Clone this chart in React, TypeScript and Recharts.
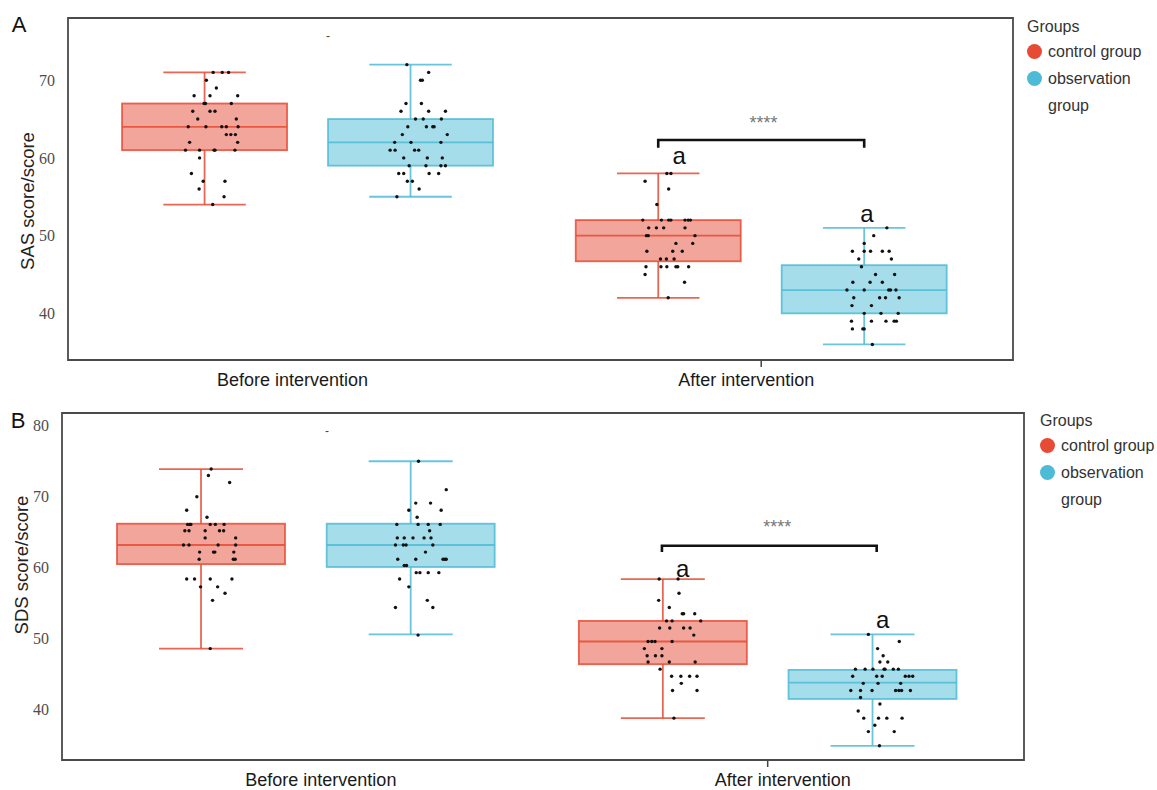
import React from "react";
import { ComposedChart, Bar, Scatter, XAxis, YAxis, ReferenceArea } from "recharts";

// Two stages on the x axis, two dodged groups per stage.
const stages = ["Before intervention", "After intervention"];
const groups = ["control group", "observation group"];
const groupColors = ["#E64B35", "#4DBBD5"];
const groupFills = ["rgba(230,75,53,0.5)", "rgba(77,187,213,0.5)"];

// Box statistics per stage: [min, q1, median, q3, max]
const sasControlStats = [[54, 61, 64, 67, 71], [42, 46.7, 50, 52, 58]];
const sasObsStats = [[55, 59, 62, 65, 72], [36, 40, 43, 46.2, 51]];
const sdsControlStats = [[48.6, 60.5, 63.2, 66.2, 73.9], [38.8, 46.4, 49.6, 52.5, 58.4]];
const sdsObsStats = [[50.6, 60.1, 63.2, 66.2, 75.0], [34.9, 41.5, 43.8, 45.6, 50.6]];

// Individual scores as [jitter, score]; jitter is the horizontal spread
const sasControlBefore = [[0.019,71],[0.039,71],[0.053,71],[0.004,70],[0.026,69],[-0.023,68],[0.012,68],[0.073,68],[-0.001,67],[0.002,67],[0.059,67],[-0.026,66],[0.012,66],[0.023,66],[-0.015,65],[0.070,65],[-0.036,64],[0.003,64],[0.038,64],[0.048,64],[0.074,64],[0.048,63],[0.058,63],[0.068,63],[-0.033,62],[0.073,62],[-0.042,61],[-0.011,61],[0.021,61],[0.023,61],[0.067,61],[-0.011,60],[-0.029,58],[-0.003,57],[0.045,57],[-0.012,56],[0.043,55],[0.018,54]];
const sasObsBefore = [[-0.008,72],[0.040,71],[0.022,70],[0.026,70],[-0.010,67],[0.024,67],[-0.021,66],[0.040,66],[0.077,66],[0.011,65],[0.028,65],[0.068,65],[-0.006,64],[0.035,64],[0.049,64],[0.052,64],[-0.018,63],[0.081,63],[-0.035,62],[0.001,62],[0.067,62],[-0.045,61],[-0.034,61],[0.009,61],[0.018,61],[-0.015,60],[0.037,60],[0.070,60],[-0.003,59],[0.034,59],[0.067,59],[0.077,59],[-0.026,58],[-0.015,58],[0.041,58],[0.062,58],[-0.007,57],[0.004,57],[0.019,56],[-0.030,55]];
const sasControlAfter = [[0.019,58],[0.028,58],[-0.029,57],[0.023,56],[-0.003,54],[-0.034,52],[0.007,52],[0.023,52],[0.028,52],[0.059,52],[0.066,52],[0.071,52],[-0.021,51],[-0.004,51],[0.012,51],[0.059,51],[-0.026,50],[-0.022,50],[0.081,50],[0.039,49],[0.076,49],[-0.025,48],[0.032,48],[0.053,48],[0.005,47],[0.018,47],[0.035,47],[-0.027,46],[0.006,46],[0.019,46],[0.039,46],[0.043,46],[0.067,46],[-0.029,45],[0.058,44],[0.022,42]];
const sasObsAfter = [[0.050,51],[0.021,50],[0.000,49],[-0.026,48],[0.000,48],[0.014,48],[0.040,48],[0.055,48],[-0.012,47],[0.060,47],[-0.006,46],[0.025,45],[0.067,45],[-0.025,44],[0.013,44],[0.040,44],[-0.038,43],[0.000,43],[0.054,43],[0.058,43],[0.070,43],[-0.023,42],[0.034,42],[0.047,42],[0.077,42],[-0.027,41],[0.016,41],[0.000,40],[0.037,40],[0.075,40],[-0.028,39],[0.016,39],[0.048,39],[0.066,39],[0.071,39],[-0.026,38],[-0.003,38],[0.000,38],[0.018,36]];
const sdsControlBefore = [[0.022,73.9],[0.016,73.0],[0.062,72.0],[-0.009,70.0],[-0.031,68.1],[0.013,67.1],[-0.029,66.1],[-0.024,66.1],[-0.022,66.1],[0.020,66.1],[0.031,66.1],[0.050,66.1],[-0.035,65.2],[-0.026,65.2],[0.009,65.2],[0.040,65.2],[0.049,65.2],[0.009,64.2],[0.075,64.2],[-0.038,63.2],[-0.026,63.2],[0.037,63.2],[0.075,63.2],[-0.003,62.2],[0.027,62.2],[0.030,62.2],[0.071,62.2],[-0.004,61.2],[0.070,61.2],[0.074,61.2],[-0.031,58.4],[-0.014,58.4],[0.020,58.4],[0.067,58.4],[-0.001,57.3],[0.036,57.3],[0.052,56.4],[0.025,55.4],[0.020,48.6]];
const sdsObsBefore = [[0.017,75.0],[0.077,71.0],[0.011,69.1],[0.043,69.1],[-0.004,68.1],[0.066,68.1],[0.014,67.1],[-0.030,66.1],[0.016,66.1],[0.038,66.1],[0.064,66.1],[0.041,65.2],[-0.029,64.2],[-0.014,64.2],[0.005,64.2],[0.029,64.2],[0.044,64.2],[-0.033,63.2],[-0.016,63.2],[-0.010,63.2],[0.048,63.2],[0.032,62.2],[-0.028,61.2],[0.011,61.2],[0.070,61.2],[0.074,61.2],[0.077,61.2],[-0.014,60.3],[-0.009,60.3],[0.012,59.3],[0.020,59.3],[0.038,59.3],[0.061,59.3],[-0.024,58.4],[-0.004,57.3],[0.036,55.4],[-0.033,54.4],[0.048,54.4],[0.016,50.5]];
const sdsControlAfter = [[-0.008,58.4],[0.033,58.4],[0.035,56.4],[-0.009,55.4],[0.014,54.4],[0.042,53.5],[0.045,53.5],[0.069,53.5],[0.008,52.5],[0.020,52.5],[0.082,52.5],[-0.007,51.5],[0.015,51.5],[0.045,51.5],[0.059,51.5],[0.067,50.5],[-0.032,49.6],[-0.024,49.6],[-0.017,49.6],[0.020,49.6],[-0.040,48.6],[-0.002,48.6],[-0.034,47.6],[-0.016,47.6],[-0.002,47.6],[-0.032,46.7],[0.014,46.7],[0.070,46.7],[-0.006,45.7],[0.019,44.7],[0.039,44.7],[0.058,44.7],[0.074,44.7],[0.040,43.7],[0.021,42.7],[0.074,42.7],[0.024,38.8]];
const sdsObsAfter = [[-0.009,50.6],[0.058,49.6],[0.011,48.6],[0.023,47.6],[0.016,46.7],[0.033,46.7],[-0.037,45.7],[-0.016,45.7],[0.001,45.7],[0.025,45.7],[0.027,45.7],[0.045,45.7],[0.056,45.7],[-0.043,44.7],[0.009,44.7],[0.021,44.7],[0.071,44.7],[0.079,44.7],[0.087,44.7],[-0.020,43.7],[0.012,43.7],[0.061,43.7],[-0.047,42.7],[-0.026,42.7],[-0.001,42.7],[0.050,42.7],[0.057,42.7],[0.063,42.7],[0.082,42.7],[-0.026,41.7],[0.016,40.8],[-0.031,39.8],[-0.019,38.8],[0.013,38.8],[0.031,38.8],[0.064,38.8],[0.005,37.8],[-0.009,36.9],[0.047,36.9],[0.015,34.9]];

// Axis ranges and ticks
const xDomain = [0.472, 2.555];
const sasDomain = [34, 78];
const sasTicks = [40, 50, 60, 70];
const sdsDomain = [32.9, 81.8];
const sdsTicks = [40, 50, 60, 70, 80];

// Annotations: bracket [x1, x2, top, end], star label [x, y], "a" marks, stray dash
const sasBracket = [1.773, 2.227, 62.3, 61.3];
const sasStars = [2.005, 64.9];
const sasMarks = [[1.819, 60.1], [2.233, 52.6]];
const sasDash = [1.045, 75.7];
const sdsBracket = [1.771, 2.236, 63.1, 62.2];
const sdsStars = [2.021, 66.2];
const sdsMarks = [[1.816, 59.7], [2.249, 52.5]];
const sdsDash = [1.046, 79.2];

const DODGE = 0.227;
const SANS = "'Liberation Sans', Arial, sans-serif";
const SERIF = "'Liberation Serif', 'Times New Roman', serif";

function BoxShape(props: any) {
  const { x, y, width, height, payload, boxWidth } = props;
  const { min, q1, median, q3, max, group } = payload;
  const cx = x + width / 2;
  const top = Math.min(y, y + height);
  const bottom = Math.max(y, y + height);
  const toY = (v: number) => bottom - ((v - min) / (max - min)) * (bottom - top);
  const stroke = groupColors[group];
  const cap = boxWidth / 4;
  const sw = 1.8;
  return (
    <g strokeOpacity={0.85}>
      <line x1={cx} x2={cx} y1={toY(max)} y2={toY(q3)} stroke={stroke} strokeWidth={sw} />
      <line x1={cx} x2={cx} y1={toY(q1)} y2={toY(min)} stroke={stroke} strokeWidth={sw} />
      <line x1={cx - cap} x2={cx + cap} y1={toY(max)} y2={toY(max)} stroke={stroke} strokeWidth={sw} />
      <line x1={cx - cap} x2={cx + cap} y1={toY(min)} y2={toY(min)} stroke={stroke} strokeWidth={sw} />
      <rect
        x={cx - boxWidth / 2}
        y={toY(q3)}
        width={boxWidth}
        height={toY(q1) - toY(q3)}
        fill={groupFills[group]}
        stroke={stroke}
        strokeWidth={sw}
      />
      <line x1={cx - boxWidth / 2} x2={cx + boxWidth / 2} y1={toY(median)} y2={toY(median)} stroke={stroke} strokeWidth={sw} />
    </g>
  );
}

function TextMark(props: any) {
  const { cx, cy, payload } = props;
  if (payload.kind === "a") {
    return (
      <text x={cx} y={cy} dy={7} textAnchor="middle" fontFamily={SANS} fontSize={24} fill="#111">
        a
      </text>
    );
  }
  if (payload.kind === "stars") {
    return (
      <text x={cx} y={cy} dy={9} textAnchor="middle" fontFamily={SANS} fontSize={18} fill="#777">
        ****
      </text>
    );
  }
  return (
    <text x={cx} y={cy} dy={4} textAnchor="middle" fontFamily={SANS} fontSize={12} fill="#444">
      -
    </text>
  );
}

function Panel(props: any) {
  const { tag, yTitle, stats, points, yDomain, yTicks, bracket, stars, marks, dash, margin, boxWidth, labelShift, tagPos, titlePos, legendPos } = props;

  const boxes = groups.flatMap((_, gi) =>
    stages.map((_, si) => {
      const [min, q1, median, q3, max] = stats[gi][si];
      return { x: si + 1 + (gi === 0 ? -DODGE : DODGE), min, q1, median, q3, max, group: gi };
    })
  );

  const dots = groups.flatMap((_, gi) =>
    stages.flatMap((_, si) =>
      points[gi][si].map(([dx, v]: number[]) => ({
        x: si + 1 + (gi === 0 ? -DODGE : DODGE) + dx,
        y: v,
      }))
    )
  );

  const [bx1, bx2, bTop, bEnd] = bracket;
  const bracketPts = [
    { x: bx1, y: bEnd },
    { x: bx1, y: bTop },
    { x: bx2, y: bTop },
    { x: bx2, y: bEnd },
  ];

  const textMarks = [
    { x: stars[0], y: stars[1], kind: "stars" },
    ...marks.map(([mx, my]: number[]) => ({ x: mx, y: my, kind: "a" })),
    { x: dash[0], y: dash[1], kind: "dash" },
  ];

  const XTick = (p: any) => {
    const { x, y, payload, index } = p;
    return (
      <g>
        {index === 1 && <line x1={x} x2={x} y1={y} y2={y + 7} stroke="#444" strokeWidth={1.5} />}
        <text
          x={x + labelShift}
          y={y + 19.5}
          textAnchor="middle"
          dominantBaseline="central"
          fontFamily={SANS}
          fontSize={18}
          fill="#1a1a1a"
        >
          {stages[payload.value - 1]}
        </text>
      </g>
    );
  };

  return (
    <div style={{ position: "relative", width: 1157, height: 395 }}>
      <ComposedChart width={1157} height={395} data={boxes} margin={margin}>
        <XAxis
          type="number"
          dataKey="x"
          domain={xDomain}
          ticks={[1, 2]}
          interval={0}
          allowDataOverflow
          axisLine={false}
          tickLine={false}
          tickSize={0}
          tickMargin={0}
          height={30}
          tick={<XTick />}
        />
        <YAxis
          type="number"
          domain={yDomain}
          ticks={yTicks}
          allowDataOverflow
          width={50}
          axisLine={false}
          tickLine={false}
          tickSize={0}
          tickMargin={13}
          tick={{ fontFamily: SERIF, fontSize: 16, fill: "#4d4d4d" }}
        />
        <ReferenceArea
          x1={xDomain[0]}
          x2={xDomain[1]}
          y1={yDomain[0]}
          y2={yDomain[1]}
          fill="none"
          stroke="#4a4a4a"
          strokeWidth={1.8}
          ifOverflow="visible"
        />
        <Bar
          dataKey={(d: any) => [d.min, d.max]}
          shape={(p: any) => <BoxShape {...p} boxWidth={boxWidth} />}
          isAnimationActive={false}
        />
        <Scatter
          data={dots}
          dataKey="y"
          shape={(p: any) => <circle cx={p.cx} cy={p.cy} r={1.7} fill="#111" />}
          isAnimationActive={false}
        />
        <Scatter
          data={bracketPts}
          dataKey="y"
          line={{ stroke: "#111", strokeWidth: 2.6 }}
          lineType="joint"
          shape={() => <g />}
          isAnimationActive={false}
        />
        <Scatter data={textMarks} dataKey="y" shape={TextMark} isAnimationActive={false} />
      </ComposedChart>

      <svg width={1157} height={395} style={{ position: "absolute", left: 0, top: 0, pointerEvents: "none" }}>
        <text x={tagPos[0]} y={tagPos[1]} textAnchor="middle" fontFamily={SANS} fontSize={22} fill="#111">
          {tag}
        </text>
        <text
          transform={`translate(${titlePos[0]},${titlePos[1]}) rotate(-90)`}
          textAnchor="middle"
          dominantBaseline="central"
          fontFamily={SANS}
          fontSize={18.5}
          fill="#222"
        >
          {yTitle}
        </text>
      </svg>

      <div
        style={{
          position: "absolute",
          left: legendPos[0],
          top: legendPos[1],
          width: 1157 - legendPos[0],
          fontFamily: SANS,
          fontSize: 16,
          color: "#333",
          whiteSpace: "normal",
        }}
      >
        <div style={{ lineHeight: "22px" }}>Groups</div>
        {groups.map((g, i) => (
          <div key={g} style={{ display: "flex", alignItems: "flex-start", lineHeight: "27px" }}>
            <span
              style={{
                flex: "0 0 15px",
                height: 15,
                marginTop: 6,
                borderRadius: "50%",
                background: groupColors[i],
              }}
            />
            <span style={{ marginLeft: 6, maxWidth: 100 }}>{g}</span>
          </div>
        ))}
      </div>
    </div>
  );
}

export default function App() {
  return (
    <div
      style={{
        position: "absolute",
        left: 0,
        top: 0,
        width: 1157,
        height: 790,
        overflow: "hidden",
        background: "#fff",
      }}
    >
      <Panel
        tag="A"
        yTitle="SAS score/score"
        stats={[sasControlStats, sasObsStats]}
        points={[[sasControlBefore, sasControlAfter], [sasObsBefore, sasObsAfter]]}
        yDomain={sasDomain}
        yTicks={sasTicks}
        bracket={sasBracket}
        stars={sasStars}
        marks={sasMarks}
        dash={sasDash}
        margin={{ top: 18, right: 144, left: 18, bottom: 5 }}
        boxWidth={165}
        labelShift={-15}
        tagPos={[19, 31.5]}
        titlePos={[27, 201]}
        legendPos={[1027, 15.5]}
      />
      <Panel
        tag="B"
        yTitle="SDS score/score"
        stats={[sdsControlStats, sdsObsStats]}
        points={[[sdsControlBefore, sdsControlAfter], [sdsObsBefore, sdsObsAfter]]}
        yDomain={sdsDomain}
        yTicks={sdsTicks}
        bracket={sdsBracket}
        stars={sdsStars}
        marks={sdsMarks}
        dash={sdsDash}
        margin={{ top: 18, right: 133, left: 12, bottom: 0 }}
        boxWidth={168}
        labelShift={15}
        tagPos={[18, 33]}
        titlePos={[21, 170]}
        legendPos={[1040, 15]}
      />
    </div>
  );
}
